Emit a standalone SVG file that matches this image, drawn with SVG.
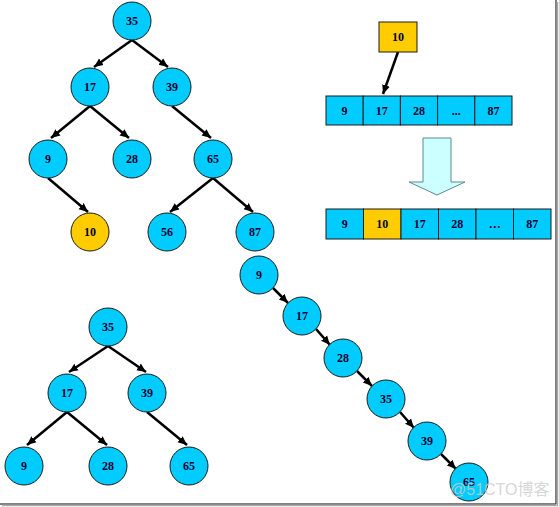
<svg xmlns="http://www.w3.org/2000/svg" width="559" height="507" viewBox="0 0 559 507">
<defs>
<marker id="ah" markerUnits="userSpaceOnUse" markerWidth="10" markerHeight="10" refX="9" refY="5" orient="auto">
<path d="M0,1 L9,5 L0,9 Z" fill="#000"/>
</marker>
<style>
.n{fill:#00ccff;stroke:#1a1a1a;stroke-width:1}
.g{fill:#ffcc00;stroke:#1a1a1a;stroke-width:1}
.c{fill:#00ccff;stroke:#1a1a1a;stroke-width:1}
.t{font-family:"Liberation Serif",serif;font-weight:bold;font-size:12px;fill:#000033;text-anchor:middle;dominant-baseline:central}
.e{stroke:#000;stroke-width:2.5;fill:none;marker-end:url(#ah)}
</style>
</defs>
<rect width="559" height="507" fill="#fff"/>
<g id="connectors">
<line class="e" x1="132" y1="40" x2="94" y2="67"/>
<line class="e" x1="132" y1="40" x2="168" y2="67"/>
<line class="e" x1="90" y1="106" x2="51" y2="138"/>
<line class="e" x1="90" y1="106" x2="129" y2="138"/>
<line class="e" x1="172" y1="106" x2="211" y2="138"/>
<line class="e" x1="48" y1="178" x2="88" y2="212"/>
<line class="e" x1="213" y1="178" x2="170" y2="212"/>
<line class="e" x1="213" y1="178" x2="253" y2="212"/>
<line class="e" x1="273" y1="288" x2="288" y2="303"/>
<line class="e" x1="316" y1="329" x2="330" y2="345"/>
<line class="e" x1="357" y1="371" x2="372" y2="386"/>
<line class="e" x1="400" y1="412" x2="414" y2="428"/>
<line class="e" x1="441" y1="454" x2="456" y2="469"/>
<line class="e" x1="108" y1="346" x2="69" y2="372"/>
<line class="e" x1="108" y1="346" x2="146" y2="372"/>
<line class="e" x1="67" y1="412" x2="27" y2="445"/>
<line class="e" x1="67" y1="412" x2="107" y2="445"/>
<line class="e" x1="147" y1="412" x2="187" y2="445"/>
<line class="e" x1="398" y1="52" x2="383" y2="94"/>
</g>
<g id="t1-35"><circle class="n" cx="132" cy="21" r="19"/><text class="t" x="132" y="21">35</text></g>
<g id="t1-17"><circle class="n" cx="90" cy="87" r="19"/><text class="t" x="90" y="87">17</text></g>
<g id="t1-39"><circle class="n" cx="172" cy="87" r="19"/><text class="t" x="172" y="87">39</text></g>
<g id="t1-9"><circle class="n" cx="48" cy="159" r="19"/><text class="t" x="48" y="159">9</text></g>
<g id="t1-28"><circle class="n" cx="132" cy="159" r="19"/><text class="t" x="132" y="159">28</text></g>
<g id="t1-65"><circle class="n" cx="213" cy="159" r="19"/><text class="t" x="213" y="159">65</text></g>
<g id="t1-10"><circle class="g" cx="90" cy="232" r="19"/><text class="t" x="90" y="232">10</text></g>
<g id="t1-56"><circle class="n" cx="167" cy="232" r="19"/><text class="t" x="167" y="232">56</text></g>
<g id="t1-87"><circle class="n" cx="255" cy="232" r="19"/><text class="t" x="255" y="232">87</text></g>
<g id="ch-9"><circle class="n" cx="259" cy="275" r="19"/><text class="t" x="259" y="275">9</text></g>
<g id="ch-17"><circle class="n" cx="302" cy="316" r="19"/><text class="t" x="302" y="316">17</text></g>
<g id="ch-28"><circle class="n" cx="343" cy="358" r="19"/><text class="t" x="343" y="358">28</text></g>
<g id="ch-35"><circle class="n" cx="386" cy="399" r="19"/><text class="t" x="386" y="399">35</text></g>
<g id="ch-39"><circle class="n" cx="427" cy="441" r="19"/><text class="t" x="427" y="441">39</text></g>
<g id="ch-65"><circle class="n" cx="469" cy="482" r="19"/><text class="t" x="469" y="482">65</text></g>
<g id="t2-35"><circle class="n" cx="108" cy="327" r="19"/><text class="t" x="108" y="327">35</text></g>
<g id="t2-17"><circle class="n" cx="67" cy="393" r="19"/><text class="t" x="67" y="393">17</text></g>
<g id="t2-39"><circle class="n" cx="147" cy="393" r="19"/><text class="t" x="147" y="393">39</text></g>
<g id="t2-9"><circle class="n" cx="24" cy="466" r="19"/><text class="t" x="24" y="466">9</text></g>
<g id="t2-28"><circle class="n" cx="108" cy="466" r="19"/><text class="t" x="108" y="466">28</text></g>
<g id="t2-65"><circle class="n" cx="189" cy="466" r="19"/><text class="t" x="189" y="466">65</text></g>
<g id="box-10"><rect class="g" x="379" y="22" width="38" height="30"/><text class="t" x="398" y="37">10</text></g>
<g id="array1">
<rect class="c" x="326" y="96" width="37.2" height="29"/><text class="t" x="344.6" y="110.5">9</text>
<rect class="c" x="363.2" y="96" width="37.2" height="29"/><text class="t" x="381.8" y="110.5">17</text>
<rect class="c" x="400.4" y="96" width="37.2" height="29"/><text class="t" x="419" y="110.5">28</text>
<rect class="c" x="437.6" y="96" width="37.2" height="29"/><text class="t" x="456.2" y="110.5">...</text>
<rect class="c" x="474.8" y="96" width="37.2" height="29"/><text class="t" x="493.4" y="110.5">87</text>
</g>
<g id="bigarrow"><path d="M423,138 L451,138 L451,182 L465,182 L437,195 L409,182 L423,182 Z" fill="#ccffff" stroke="#5f8a8a" stroke-width="1"/></g>
<g id="array2">
<rect class="c" x="326" y="209" width="37.5" height="30"/><text class="t" x="344.75" y="224">9</text>
<rect class="g" x="363.5" y="209" width="37.5" height="30"/><text class="t" x="382.25" y="224">10</text>
<rect class="c" x="401" y="209" width="37.5" height="30"/><text class="t" x="419.75" y="224">17</text>
<rect class="c" x="438.5" y="209" width="37.5" height="30"/><text class="t" x="457.25" y="224">28</text>
<rect class="c" x="476" y="209" width="37.5" height="30"/><text class="t" x="494.75" y="224">…</text>
<rect class="c" x="513.5" y="209" width="37.5" height="30"/><text class="t" x="532.25" y="224">87</text>
</g>
<g id="frame">
<line x1="556" y1="0" x2="556" y2="504" stroke="#555" stroke-width="1.5"/>
<line x1="557.5" y1="2" x2="557.5" y2="506" stroke="#aaa" stroke-width="1.5"/>
<line x1="0" y1="504" x2="556" y2="504" stroke="#555" stroke-width="1.5"/>
<line x1="2" y1="505.5" x2="558" y2="505.5" stroke="#aaa" stroke-width="1.5"/>
</g>
<text x="450" y="495" font-family="'Liberation Sans','Noto Sans CJK SC',sans-serif" font-size="16" fill="#cccccc" fill-opacity="0.8">@51CTO博客</text>
</svg>
